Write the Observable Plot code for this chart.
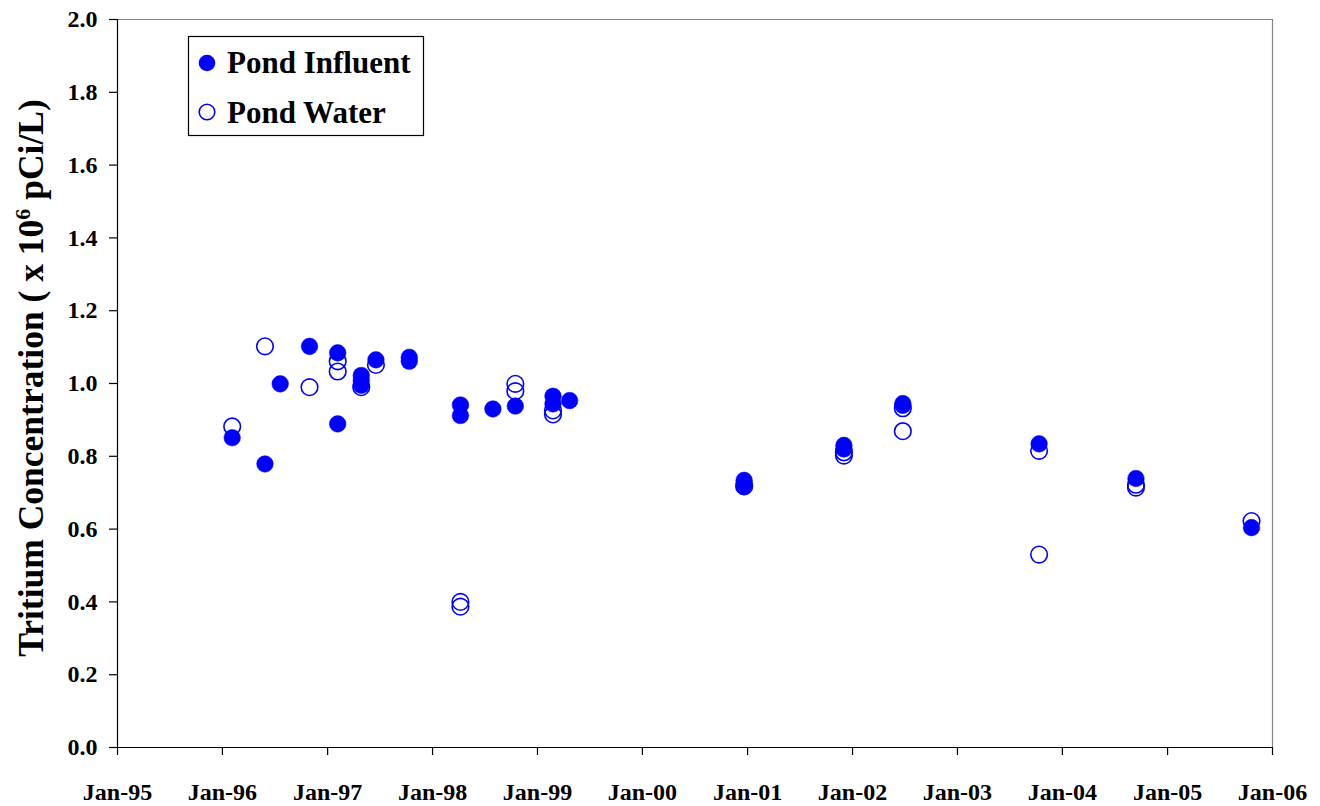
<!DOCTYPE html>
<html><head><meta charset="utf-8">
<script src="https://cdn.jsdelivr.net/npm/d3@7"></script>
<script src="https://cdn.jsdelivr.net/npm/@observablehq/plot@0.6"></script>
<style>body{margin:0;background:#fff}</style>
</head><body><div id="chart"></div>
<script>
// Pond Influent (filled markers)
const influentDates = [
  "1996-02-04","1996-05-28","1996-07-20","1996-10-30",
  "1997-02-05","1997-02-05","1997-04-28","1997-04-28","1997-04-28",
  "1997-06-18","1997-10-12","1997-10-12",
  "1998-04-08","1998-04-08","1998-07-30","1998-10-16",
  "1999-02-24","1999-02-24","1999-04-23",
  "2000-12-20","2000-12-20","2000-12-20",
  "2001-12-02","2001-12-02","2002-06-25","2002-06-25",
  "2003-10-12","2004-09-13","2005-10-20"
];
const influentValues = [
  0.851, 0.779, 0.999, 1.102,
  1.084, 0.889, 1.022, 1.008, 0.995,
  1.065, 1.072, 1.061,
  0.941, 0.912, 0.930, 0.938,
  0.965, 0.944, 0.953,
  0.734, 0.725, 0.716,
  0.830, 0.820, 0.945, 0.940,
  0.834, 0.739, 0.604
];
// Pond Water (open markers)
const waterDates = [
  "1996-02-04","1996-05-28","1996-10-30",
  "1997-02-05","1997-02-05","1997-04-28","1997-06-18",
  "1998-04-08","1998-04-08","1998-10-16","1998-10-16",
  "1999-02-24","1999-02-24",
  "2000-12-20","2001-12-02","2001-12-02",
  "2002-06-25","2002-06-25",
  "2003-10-12","2003-10-12","2004-09-13","2004-09-13","2005-10-20"
];
const waterValues = [
  0.882, 1.102, 0.990,
  1.061, 1.033, 0.990, 1.051,
  0.400, 0.387, 0.999, 0.979,
  0.926, 0.915,
  0.718, 0.811, 0.802,
  0.932, 0.869,
  0.815, 0.530, 0.722, 0.714, 0.622
];
const seriesNames = ["Pond Influent", "Pond Water"];
const yTicks = [0, 0.2, 0.4, 0.6, 0.8, 1.0, 1.2, 1.4, 1.6, 1.8, 2.0];
const xTickYears = [1995,1996,1997,1998,1999,2000,2001,2002,2003,2004,2005,2006];
const yTitle = ["Tritium Concentration ( x 10", "6", " pCi/L)"];

const parse = d3.utcParse("%Y-%m-%d");
const influent = influentDates.map((d, i) => ({date: parse(d), value: influentValues[i]}));
const water = waterDates.map((d, i) => ({date: parse(d), value: waterValues[i]}));
const xTicks = xTickYears.map(y => new Date(Date.UTC(y, 0, 1)));
const xMin = xTicks[0], xMax = xTicks[xTicks.length - 1];
const blue = "#0000ff";
const font = "'Liberation Serif', 'Times New Roman', serif";

const plot = Plot.plot({
  width: 1320, height: 806,
  marginLeft: 117, marginRight: 48, marginTop: 19, marginBottom: 59,
  style: {fontFamily: font, fontWeight: "bold", fontSize: "24px", color: "#000", background: "#fff"},
  x: {type: "utc", domain: [xMin, xMax]},
  y: {domain: [0, 2]},
  marks: [
    Plot.ruleY([2], {stroke: "#868686", strokeWidth: 1.2}),
    Plot.ruleX([xMax], {stroke: "#868686", strokeWidth: 1.2}),
    Plot.axisY({ticks: yTicks, tickFormat: d3.format(".1f"), tickSize: 8, tickPadding: 12, label: null, strokeWidth: 1.2, fontSize: 24, fontWeight: "bold"}),
    Plot.axisX({ticks: xTicks, tickFormat: d3.utcFormat("Jan-%y"), tickSize: 8, tickPadding: 27, label: null, strokeWidth: 1.2, fontSize: 24, fontWeight: "bold"}),
    Plot.ruleX([xMin], {stroke: "#000", strokeWidth: 1.2}),
    Plot.ruleY([0], {stroke: "#000", strokeWidth: 1.2}),
    Plot.dot(water, {x: "date", y: "value", r: 8.3, stroke: blue, strokeWidth: 1.6, fill: "none"}),
    Plot.dot(influent, {x: "date", y: "value", r: 8.3, fill: blue, stroke: blue, strokeWidth: 0.5})
  ]
});
document.getElementById("chart").appendChild(plot);

const svg = d3.select(plot);
// Y axis title
const t = svg.append("text")
  .attr("transform", "translate(43,378) rotate(-90)")
  .attr("text-anchor", "middle")
  .attr("font-family", font).attr("font-weight", "bold").attr("font-size", 35.5)
  .attr("fill", "#000");
t.append("tspan").text(yTitle[0]);
t.append("tspan").attr("dy", -13).attr("font-size", 22).text(yTitle[1]);
t.append("tspan").attr("dy", 13).text(yTitle[2]);

// Legend
const lg = svg.append("g").attr("text-anchor", "start");
lg.append("rect").attr("x", 188.5).attr("y", 36.5).attr("width", 235).attr("height", 99)
  .attr("fill", "#fff").attr("stroke", "#000").attr("stroke-width", 1.2);
lg.append("circle").attr("cx", 207).attr("cy", 63).attr("r", 8.3).attr("fill", blue);
lg.append("circle").attr("cx", 207).attr("cy", 112).attr("r", 7.8).attr("fill", "none").attr("stroke", blue).attr("stroke-width", 1.6);
lg.append("text").attr("x", 227).attr("y", 73).attr("text-anchor", "start").attr("font-family", font).attr("font-weight", "bold")
  .attr("font-size", 31).attr("fill", "#000").text(seriesNames[0]);
lg.append("text").attr("x", 227).attr("y", 123).attr("text-anchor", "start").attr("font-family", font).attr("font-weight", "bold")
  .attr("font-size", 31).attr("fill", "#000").text(seriesNames[1]);
</script>
</body></html>
